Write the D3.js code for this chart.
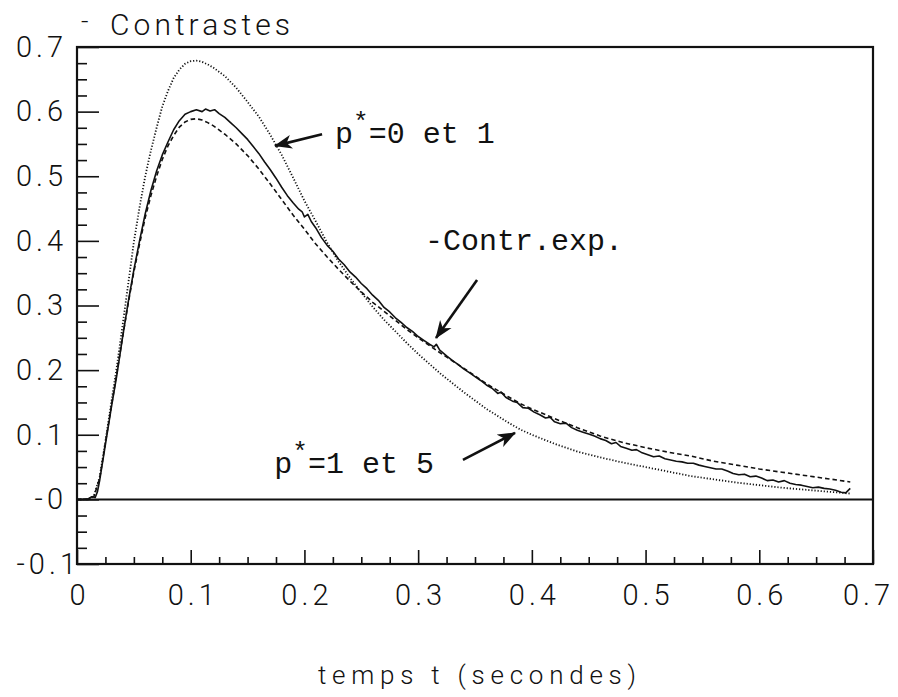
<!DOCTYPE html>
<html><head><meta charset="utf-8">
<script src="https://cdn.jsdelivr.net/npm/d3@7"></script>
<style>
html,body{margin:0;padding:0;background:#fff;}
svg{display:block;}
.plot{font-family:Roboto,"DejaVu Sans",sans-serif;font-weight:300;}
.mono{font-family:"Liberation Mono","DejaVu Sans Mono",monospace;}
</style></head>
<body>
<svg id="chart" width="898" height="697"></svg>
<script>
// ---- data ----
const xTickValues = [0,0.1,0.2,0.3,0.4,0.5,0.6,0.7];
const xTickLabels = ["0","0.1","0.2","0.3","0.4","0.5","0.6","0.7"];
const yTickValues = [-0.1,0,0.1,0.2,0.3,0.4,0.5,0.6,0.7];
const yTickLabels = ["-0.1","-0","0.1","0.2","0.3","0.4","0.5","0.6","0.7"];
const yTitle = "Contrastes";
const xTitle = "temps t (secondes)";

// experimental contrast (solid)
const expT = [0,0.005,0.010,0.013,0.016,0.018,0.020,0.025,0.030,0.035,0.040,0.045,0.050,0.055,0.060,0.065,0.070,0.075,0.080,0.085,0.090,0.095,0.100,0.105,0.110,0.113,0.117,0.121,0.125,0.130,0.135,0.140,0.145,0.150,0.155,0.160,0.165,0.170,0.175,0.180,0.185,0.190,0.195,0.198,0.200,0.203,0.206,0.210,0.215,0.220,0.225,0.230,0.235,0.240,0.245,0.250,0.255,0.260,0.265,0.270,0.275,0.280,0.285,0.290,0.295,0.300,0.305,0.310,0.314,0.316,0.319,0.325,0.330,0.335,0.340,0.345,0.350,0.355,0.360,0.365,0.370,0.373,0.377,0.383,0.387,0.392,0.397,0.402,0.407,0.412,0.416,0.420,0.425,0.430,0.435,0.440,0.445,0.450,0.455,0.460,0.465,0.470,0.474,0.478,0.483,0.488,0.492,0.497,0.502,0.507,0.512,0.517,0.522,0.527,0.532,0.537,0.542,0.547,0.552,0.557,0.562,0.567,0.572,0.577,0.582,0.587,0.592,0.597,0.602,0.607,0.612,0.617,0.622,0.627,0.632,0.637,0.642,0.647,0.652,0.657,0.662,0.667,0.672,0.676,0.680];
const expV = [0,0,0.001,0.004,0.003,0.012,0.030,0.085,0.140,0.192,0.250,0.305,0.355,0.400,0.442,0.478,0.508,0.533,0.553,0.572,0.586,0.596,0.600,0.603,0.600,0.604,0.601,0.603,0.597,0.591,0.583,0.575,0.566,0.557,0.546,0.535,0.522,0.510,0.497,0.483,0.470,0.459,0.449,0.445,0.437,0.441,0.430,0.420,0.405,0.393,0.384,0.372,0.363,0.352,0.344,0.334,0.326,0.316,0.308,0.297,0.290,0.281,0.274,0.266,0.260,0.252,0.246,0.240,0.236,0.240,0.231,0.222,0.215,0.209,0.202,0.196,0.190,0.184,0.177,0.172,0.164,0.166,0.158,0.152,0.150,0.142,0.141,0.135,0.131,0.126,0.127,0.120,0.117,0.118,0.111,0.107,0.104,0.101,0.098,0.094,0.091,0.086,0.088,0.082,0.079,0.076,0.077,0.072,0.069,0.066,0.067,0.063,0.061,0.059,0.058,0.056,0.056,0.053,0.051,0.049,0.047,0.047,0.044,0.040,0.038,0.039,0.035,0.036,0.033,0.029,0.030,0.027,0.029,0.025,0.023,0.022,0.020,0.018,0.019,0.017,0.016,0.014,0.011,0.010,0.017];

// model, dotted curve
const dotT = [0,0.010,0.015,0.020,0.025,0.030,0.035,0.040,0.045,0.050,0.055,0.060,0.065,0.070,0.075,0.080,0.085,0.090,0.095,0.100,0.105,0.110,0.115,0.120,0.130,0.140,0.150,0.160,0.170,0.180,0.190,0.200,0.210,0.220,0.230,0.240,0.250,0.260,0.270,0.280,0.290,0.300,0.320,0.340,0.360,0.380,0.390,0.400,0.420,0.440,0.460,0.480,0.500,0.520,0.540,0.560,0.580,0.600,0.620,0.640,0.660,0.680];
const dotV = [0,0,0.006,0.035,0.090,0.148,0.205,0.268,0.333,0.398,0.452,0.500,0.540,0.575,0.608,0.632,0.652,0.665,0.674,0.678,0.679,0.677,0.673,0.668,0.655,0.637,0.615,0.592,0.564,0.533,0.498,0.462,0.430,0.397,0.368,0.343,0.320,0.298,0.278,0.260,0.242,0.225,0.194,0.166,0.140,0.118,0.108,0.100,0.086,0.074,0.065,0.057,0.050,0.043,0.036,0.031,0.026,0.022,0.018,0.015,0.012,0.009];

// model, dashed curve
const dashT = [0,0.010,0.015,0.020,0.025,0.030,0.035,0.040,0.045,0.050,0.055,0.060,0.065,0.070,0.075,0.080,0.085,0.090,0.095,0.100,0.105,0.110,0.115,0.120,0.130,0.140,0.150,0.160,0.170,0.180,0.190,0.200,0.210,0.220,0.230,0.240,0.250,0.260,0.270,0.280,0.290,0.300,0.320,0.340,0.360,0.380,0.390,0.400,0.420,0.440,0.460,0.480,0.500,0.520,0.540,0.550,0.560,0.580,0.600,0.620,0.640,0.660,0.680];
const dashV = [0,0,0.005,0.033,0.088,0.142,0.195,0.250,0.303,0.352,0.395,0.436,0.470,0.500,0.526,0.547,0.563,0.576,0.584,0.588,0.589,0.587,0.583,0.578,0.565,0.550,0.532,0.511,0.488,0.464,0.440,0.418,0.395,0.375,0.356,0.338,0.321,0.305,0.291,0.277,0.263,0.250,0.226,0.203,0.179,0.158,0.148,0.140,0.125,0.111,0.098,0.088,0.080,0.073,0.067,0.063,0.059,0.053,0.047,0.042,0.037,0.032,0.027];

// annotations (data units)
const annTexts = ["p", "*", "=0 et 1", "-Contr.exp.", "p", "*", "=1 et 5"];
const arrowsFrom = [[0.2155,0.565],[0.3518,0.3396],[0.3394,0.061]];
const arrowsTo   = [[0.1741,0.547],[0.3157,0.2498],[0.3852,0.1028]];
const labelsAt   = [[0.2269,0.5515],[0.3060,0.3860],[0.1735,0.0409]];

// ---- drawing ----
const svg = d3.select("#chart");
const x = d3.scaleLinear().domain([0,0.7]).range([77,873]);
const y = d3.scaleLinear().domain([-0.1,0.7]).range([564,47]);

const yMinor = d3.range(-0.1,0.7001,0.025).filter(v=>Math.abs(Math.round(v*10)-v*10)>0.01);
const xMinor = d3.range(0,0.7001,0.025).filter(v=>Math.abs(Math.round(v*10)-v*10)>0.01);

const root = svg.append("g").attr("class","plot");

// y axis ticks
const gyMin = root.append("g").attr("transform",`translate(${x(0)},0)`)
  .call(d3.axisLeft(y).tickValues(yMinor).tickSize(-10).tickFormat(""));
const gy = root.append("g").attr("transform",`translate(${x(0)},0)`)
  .call(d3.axisLeft(y).tickValues(yTickValues).tickSize(-22).tickPadding(10)
    .tickFormat((d,i)=>yTickLabels[i]));
// x axis ticks
const gxMin = root.append("g").attr("transform",`translate(0,${y(-0.1)})`)
  .call(d3.axisBottom(x).tickValues(xMinor).tickSize(-7).tickFormat(""));
const gx = root.append("g").attr("transform",`translate(0,${y(-0.1)})`)
  .call(d3.axisBottom(x).tickValues(xTickValues).tickSize(-14).tickPadding(20)
    .tickFormat((d,i)=>xTickLabels[i]));

[gyMin,gy,gxMin,gx].forEach(g=>{
  g.select(".domain").remove();
  g.selectAll(".tick line").attr("stroke","#111").attr("stroke-width",1.6);
});
[gy,gx].forEach(g=>g.selectAll(".tick text")
  .attr("font-family",'Roboto,"DejaVu Sans",sans-serif').attr("font-weight",300)
  .attr("font-size",29).attr("fill","#111").style("letter-spacing","4px"));
gy.selectAll(".tick text").filter((d,i)=>i===0).attr("dx",13);
gx.selectAll(".tick text").attr("dx",2);
gx.selectAll(".tick text").filter((d,i)=>i===xTickValues.length-1).attr("dx",-5);

// frame
root.append("rect").attr("x",x(0)).attr("y",y(0.7))
  .attr("width",x(0.7)-x(0)).attr("height",y(-0.1)-y(0.7))
  .attr("fill","none").attr("stroke","#111").attr("stroke-width",2.2);
// zero line
root.append("line").attr("x1",x(0)).attr("x2",x(0.7)).attr("y1",y(0)).attr("y2",y(0))
  .attr("stroke","#111").attr("stroke-width",2);

// curves
const line = d3.line().x(d=>x(d[0])).y(d=>y(d[1]));
const zip = (a,b)=>a.map((t,i)=>[t,b[i]]);
root.append("path").datum(zip(dotT,dotV)).attr("d",line)
  .attr("fill","none").attr("stroke","#111").attr("stroke-width",1.8).attr("stroke-dasharray","1.2 1.9");
root.append("path").datum(zip(dashT,dashV)).attr("d",line)
  .attr("fill","none").attr("stroke","#111").attr("stroke-width",1.6).attr("stroke-dasharray","4.5 3");
root.append("path").datum(zip(expT,expV)).attr("d",line)
  .attr("fill","none").attr("stroke","#111").attr("stroke-width",1.6).attr("stroke-linejoin","round");

// titles
root.append("text").attr("x",x(0)+4).attr("y",y(0.7)-17).attr("font-size",26).attr("fill","#111").text("-");
root.append("text").attr("x",x(0)+33).attr("y",y(0.7)-12).attr("font-size",30).attr("fill","#111")
  .attr("textLength",180).attr("lengthAdjust","spacing").text(yTitle);
root.append("text").attr("x",318).attr("y",684).attr("font-size",26).attr("fill","#111")
  .attr("textLength",318).attr("lengthAdjust","spacing").text(xTitle);

// arrows
const defs = svg.append("defs");
defs.append("marker").attr("id","ah").attr("markerUnits","userSpaceOnUse")
  .attr("viewBox","0 -8 18 16").attr("refX",17).attr("refY",0)
  .attr("markerWidth",18).attr("markerHeight",16).attr("orient","auto")
  .append("path").attr("d","M0,-7 L18,0 L0,7 L5,0 Z").attr("fill","#111");
arrowsFrom.forEach((f,i)=>{
  root.append("line").attr("x1",x(f[0])).attr("y1",y(f[1]))
    .attr("x2",x(arrowsTo[i][0])).attr("y2",y(arrowsTo[i][1]))
    .attr("stroke","#111").attr("stroke-width",2.6).attr("marker-end","url(#ah)");
});

// annotation labels
const ann = root.append("g").attr("class","mono").attr("font-size",30).attr("fill","#111");
function pLabel(pos, a, b, c){
  const t = ann.append("text").attr("x",x(pos[0])).attr("y",y(pos[1]));
  t.append("tspan").text(a);
  t.append("tspan").attr("dy",-13).attr("font-size",26).text(b);
  t.append("tspan").attr("dy",13).text(c);
}
pLabel(labelsAt[0], annTexts[0], annTexts[1], annTexts[2]);
ann.append("text").attr("x",x(labelsAt[1][0])).attr("y",y(labelsAt[1][1])).text(annTexts[3]);
pLabel(labelsAt[2], annTexts[4], annTexts[5], annTexts[6]);
</script>
</body></html>
